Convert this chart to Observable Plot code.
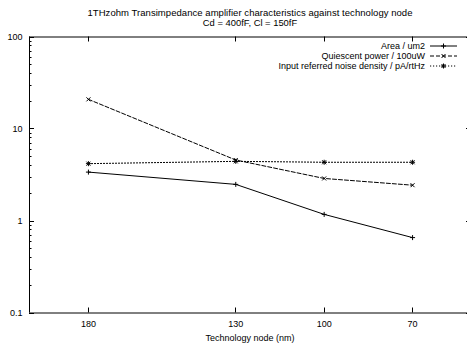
<!DOCTYPE html>
<html>
<head>
<meta charset="utf-8">
<script src="https://cdn.jsdelivr.net/npm/d3@7"></script>
<script src="https://cdn.jsdelivr.net/npm/@observablehq/plot@0.6"></script>
<style>
  html, body { margin: 0; padding: 0; background: #fff; }
  #chart { width: 467px; height: 345px; overflow: hidden; }
</style>
</head>
<body>
<div id="chart"></div>
<script>
// ---- data ----
const titleLines = ["1THzohm Transimpedance amplifier characteristics against technology node", "Cd = 400fF, Cl = 150fF"];
const xLabel = "Technology node (nm)";
const nodes = [180, 130, 100, 70];
const area = [3.4, 2.5, 1.18, 0.66];
const power = [21, 4.6, 2.9, 2.45];
const noise = [4.2, 4.45, 4.35, 4.35];
const seriesNames = ["Area / um2", "Quiescent power / 100uW", "Input referred noise density / pA/rtHz"];
const xTicks = [180, 130, 100, 70];
const yTicks = [0.1, 1, 10, 100];
const xDomain = [200, 50];
const yDomain = [0.1, 100];

// ---- derived table ----
const seriesValues = [area, power, noise];
const rows = seriesNames.map((name, s) => nodes.map((n, i) => ({series: name, node: n, value: seriesValues[s][i]})));

// ---- symbols (gnuplot-style point types) ----
const symPlus = {draw(ctx, size) { const r = Math.sqrt(size / Math.PI); ctx.moveTo(-r, 0); ctx.lineTo(r, 0); ctx.moveTo(0, -r); ctx.lineTo(0, r); }};
const symTimes = {draw(ctx, size) { const r = Math.sqrt(size / Math.PI) * 0.8; ctx.moveTo(-r, -r); ctx.lineTo(r, r); ctx.moveTo(-r, r); ctx.lineTo(r, -r); }};
const symStar = {draw(ctx, size) { symPlus.draw(ctx, size); symTimes.draw(ctx, size); }};
const symbols = [symPlus, symTimes, symStar];
const dashes = [null, "4,2", "1.2,1.8"];

const font = "'Liberation Sans', Arial, Helvetica, sans-serif";

function decorations(index, scales, values, dimensions) {
  const {x, y} = scales;
  const g = d3.create("svg:g").attr("fill", "none").attr("stroke", "#000").attr("stroke-width", 1);
  const xl = x(xDomain[0]), xr = x(xDomain[1]);
  const yb = y(yDomain[0]), yt = y(yDomain[1]);
  // major y ticks (inward, both sides)
  for (const v of yTicks) {
    const yy = Math.round(y(v)) + 0.5;
    g.append("line").attr("x1", xl).attr("x2", xl + 5).attr("y1", yy).attr("y2", yy);
    g.append("line").attr("x1", xr).attr("x2", xr - 5).attr("y1", yy).attr("y2", yy);
  }
  // minor y ticks
  for (let d = 0; d < yTicks.length - 1; d++) {
    for (let k = 2; k <= 9; k++) {
      const yy = Math.round(y(yTicks[d] * k)) + 0.5;
      g.append("line").attr("x1", xl).attr("x2", xl + 2.5).attr("y1", yy).attr("y2", yy);
      g.append("line").attr("x1", xr).attr("x2", xr - 2.5).attr("y1", yy).attr("y2", yy);
    }
  }
  // x ticks bottom and top (inward)
  for (const v of xTicks) {
    const xx = Math.round(x(v)) + 0.5;
    g.append("line").attr("x1", xx).attr("x2", xx).attr("y1", yb).attr("y2", yb - 5);
    g.append("line").attr("x1", xx).attr("x2", xx).attr("y1", yt).attr("y2", yt + 5);
  }
  // titles
  const cx = (xl + xr) / 2;
  const t = g.append("g").attr("fill", "#000").attr("stroke", "none")
    .attr("font-family", font).attr("font-size", 9).attr("text-anchor", "middle");
  t.append("text").attr("x", cx).attr("y", 15.8).attr("font-size", 9.5)
    .attr("textLength", 325).attr("lengthAdjust", "spacing").text(titleLines[0]);
  t.append("text").attr("x", cx).attr("y", 25.5).attr("font-size", 9.4).text(titleLines[1]);
  t.append("text").attr("x", cx).attr("y", 340.5).text(xLabel);
  // legend
  seriesNames.forEach((name, i) => {
    const ly = yt + 9.5 + i * 10;
    t.append("text").attr("x", 425).attr("y", ly + 3.2).attr("text-anchor", "end").text(name);
    g.append("line").attr("x1", 430).attr("x2", 457).attr("y1", ly).attr("y2", ly)
      .attr("stroke-dasharray", dashes[i]);
    const p = d3.path();
    symbols[i].draw(p, Math.PI * 2.5 * 2.5);
    g.append("path").attr("d", p.toString()).attr("transform", `translate(443.5,${ly})`);
  });
  return g.node();
}

const marks = [];
rows.forEach((data, i) => {
  marks.push(Plot.line(data, {x: "node", y: "value", stroke: "#000", strokeWidth: 1, strokeDasharray: dashes[i]}));
  marks.push(Plot.dot(data, {x: "node", y: "value", symbol: symbols[i], r: 2.5, fill: "none", stroke: "#000", strokeWidth: 1}));
});

const chart = Plot.plot({
  width: 467,
  height: 345,
  marginTop: 36.5,
  marginBottom: 32.5,
  marginLeft: 29,
  marginRight: 0,
  x: {domain: xDomain, range: [29, 471]},
  y: {type: "log", domain: yDomain},
  style: {fontFamily: font, fontSize: "9px", background: "#fff", color: "#000"},
  marks: [
    Plot.ruleX(xDomain, {stroke: "#000", strokeWidth: 1}),
    Plot.ruleY(yDomain, {stroke: "#000", strokeWidth: 1}),
    Plot.axisY({ticks: yTicks, tickSize: 0, tickPadding: 7, tickFormat: d => String(d), label: null}),
    Plot.axisX({ticks: xTicks, tickSize: 0, tickPadding: 8, tickFormat: d => String(d), label: null}),
    ...marks,
    decorations
  ]
});
document.getElementById("chart").appendChild(chart);
</script>
</body>
</html>
